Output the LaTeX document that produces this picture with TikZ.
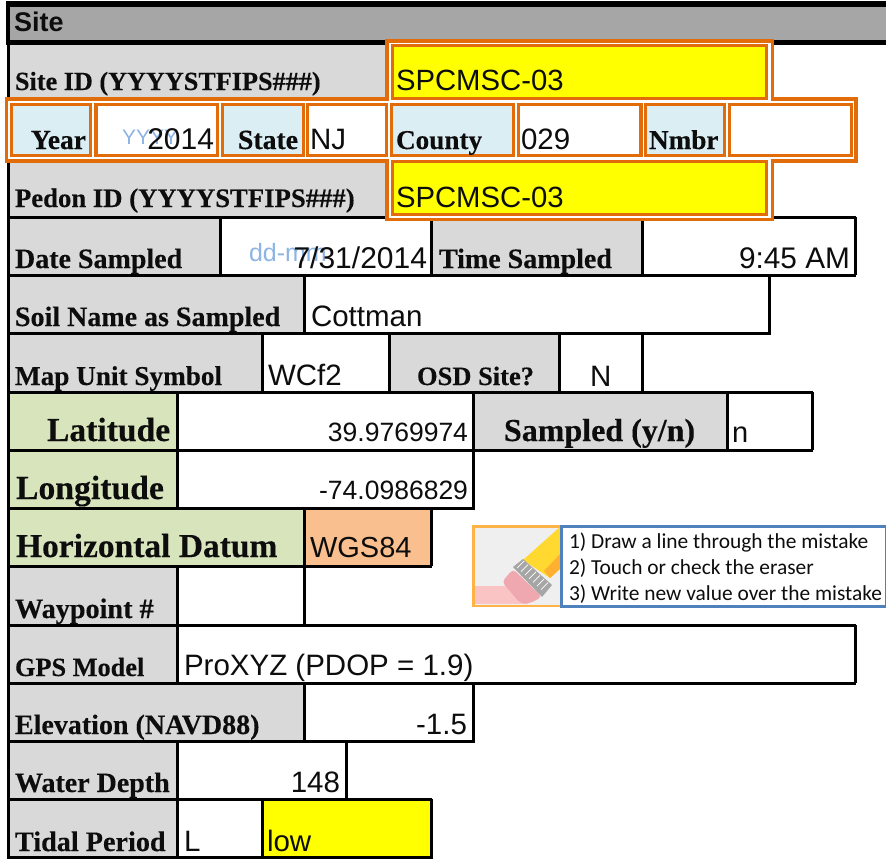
\documentclass[tikz,border=0pt]{standalone}
\usepackage{fontspec}
\setmainfont{Liberation Sans}
\newfontfamily\serifb[FakeBold=0.25]{Liberation Serif Bold}
\newfontfamily\calloutf{Carlito}
\definecolor{gr}{HTML}{D9D9D9}
\definecolor{hdr}{HTML}{A6A6A6}
\definecolor{grn}{HTML}{D8E4BC}
\definecolor{peach}{HTML}{FABF8F}
\definecolor{ltb}{HTML}{DAEEF3}
\definecolor{org}{HTML}{E26B0A}
\definecolor{wm}{HTML}{8DB4E2}
\definecolor{box}{HTML}{4F81BD}
\definecolor{eo}{HTML}{FFB347}
\definecolor{yel}{RGB}{255,255,0}
\definecolor{pband}{HTML}{FBC4C4}
\definecolor{peraser}{HTML}{F0A8B0}
\definecolor{pyel}{HTML}{FFD92F}
\definecolor{pora}{HTML}{FFB030}
\definecolor{ebg}{HTML}{EFEFEF}
\tikzset{
  base/.style={inner sep=0pt,outer sep=0pt,anchor=base west,text=black!95},
  vline/.style={line width=3pt,black},
  obox/.style={line width=3.4pt,org},
  oout/.style={line width=3.8pt,org},
}
\newcommand{\fcell}[5]{\fill[#5] (#1,#2) rectangle (#3,#4);}
\newcommand{\lab}[5]{\node[base,font={\fontsize{#4}{#4}\serifb}] (#1) at (#2,#3) {#5};}
\newcommand{\val}[5]{\node[base,font={\fontsize{#4}{#4}\selectfont}] (#1) at (#2,#3) {#5};}
\newcommand{\valr}[5]{\node[base,anchor=base east,font={\fontsize{#4}{#4}\selectfont}] (#1) at (#2,#3) {#5};}
\begin{document}
\begin{tikzpicture}[x=1pt,y=-1pt]
\useasboundingbox (0,0) rectangle (886,859);
\fill[white] (0,0) rectangle (886,859);
% fills
\fcell{8}{5}{886}{42}{hdr}
\fcell{9}{45}{388}{99}{gr}
\fcell{9}{162}{388}{217}{gr}
\fcell{9}{217}{219}{275}{gr}
\fcell{431}{217}{643}{275}{gr}
\fcell{9}{275}{304}{333}{gr}
\fcell{9}{333}{262}{392}{gr}
\fcell{390}{333}{559}{392}{gr}
\fcell{474}{392}{727}{450}{gr}
\fcell{9}{392}{177}{450}{grn}
\fcell{9}{450}{177}{508}{grn}
\fcell{9}{508}{304}{566}{grn}
\fcell{304}{508}{431}{566}{peach}
\fcell{9}{566}{177}{625}{gr}
\fcell{9}{625}{177}{683}{gr}
\fcell{9}{683}{304}{741}{gr}
\fcell{9}{741}{177}{799}{gr}
\fcell{9}{799}{177}{857}{gr}
\fcell{262}{799}{431}{857}{yel}
% black lines
\draw[line width=6pt] (6,4) -- (886,4);
\draw[line width=5.5pt] (8,42.5) -- (387,42.5) (772,42.5) -- (886,42.5);
\draw[line width=4.5pt] (8,2) -- (8,45);
\draw[vline] (8.5,45) -- (8.5,858.5);
\draw[vline] (8,217.5) -- (388,217.5) (770,217.5) -- (856,217.5);
\draw[vline] (8,275.5) -- (856,275.5);
\draw[vline] (8,333.5) -- (771,333.5);
\draw[vline] (8,392) -- (813,392);
\draw[vline] (8,450) -- (813,450);
\draw[vline] (8,508) -- (475,508);
\draw[vline] (8,566.5) -- (432,566.5);
\draw[vline] (8,625.5) -- (856,625.5);
\draw[vline] (8,683.5) -- (856,683.5);
\draw[vline] (8,741.5) -- (475,741.5);
\draw[vline] (8,799.5) -- (432,799.5);
\draw[vline] (8,857.5) -- (432,857.5);
\draw[vline] (220,217) -- (220,275) (431.5,217) -- (431.5,275) (642,217) -- (642,275) (855,217) -- (855,275);
\draw[vline] (304.5,275) -- (304.5,333) (769.5,275) -- (769.5,333);
\draw[vline] (262.5,333) -- (262.5,392) (389.5,333) -- (389.5,392) (559,333) -- (559,392) (642,333) -- (642,392);
\draw[vline] (177.5,392) -- (177.5,508) (473.5,392) -- (473.5,508) (727,392) -- (727,450) (812,392) -- (812,450);
\draw[vline] (304.5,508) -- (304.5,625) (431.5,508) -- (431.5,566);
\draw[vline] (177.5,566) -- (177.5,683) (855,625) -- (855,683);
\draw[vline] (304.5,683) -- (304.5,743) (473.5,683) -- (473.5,743);
\draw[vline] (177.5,741) -- (177.5,858) (346.5,741) -- (346.5,799) (262.5,799) -- (262.5,858) (431.5,799) -- (431.5,859);
% orange boxes: fills
\fill[white] (389,41) rectangle (772,100);
\fill[white] (7,100) rectangle (856,161);
\fill[white] (389,161) rectangle (772,219);
\fill[yel] (391,44) rectangle (768,99);
\fill[yel] (391,161) rectangle (768,216);
\foreach \a/\b in {10/92,221/305,390/515,644/726}{\fill[ltb] (\a,103) rectangle (\b,157);}
% orange outer lines
\draw[oout] (387,99) -- (387,41) -- (772.5,41) -- (772.5,99) -- (856,99) -- (856,161) -- (772.5,161) -- (772.5,219.5) -- (387,219.5) -- (387,161) -- (6.5,161) -- (6.5,99) -- cycle;
% orange inner boxes
\draw[obox] (392.5,45.5) rectangle (766.5,98.5);
\draw[obox] (392.5,161.5) rectangle (766.5,214.5);
\foreach \a/\b in {11.5/90.5,96/217.5,222.5/303.5,307.5/386.5,391.5/513.5,518.5/641,645.5/724.5,729.5/851.5}{\draw[obox] (\a,104.5) rectangle (\b,155.5);}
% watermarks
\val{wyear}{122}{144}{21}{\textcolor{wm}{YYYY}}
\val{wdate}{249}{261}{25}{\textcolor{wm}{dd-mm}}
% labels
\node[base,font={\fontsize{27}{27}\bfseries}] (site) at (14,32) {Site};
\lab{l1}{15}{90}{26.2}{Site ID (YYYYSTFIPS\#\#\#)}
\lab{l2}{31}{149}{27.5}{Year}
\lab{l3}{238}{149}{27.7}{State}
\lab{l4}{396}{149}{27.2}{County}
\lab{l5}{649}{149}{27.2}{Nmbr}
\lab{l6}{15}{207}{26.7}{Pedon ID (YYYYSTFIPS\#\#\#)}
\lab{l7}{15}{268}{28}{Date Sampled}
\lab{l8}{439}{268}{28}{Time Sampled}
\lab{l9}{15}{326}{28}{Soil Name as Sampled}
\lab{l10}{15}{385}{27.2}{Map Unit Symbol}
\lab{l11}{417}{385}{26.5}{OSD Site?}
\lab{l12}{47}{441}{33.6}{Latitude}
\lab{l13}{504}{441}{32}{Sampled (y/n)}
\lab{l14}{16}{499}{33.7}{Longitude}
\lab{l15}{16}{557}{33.5}{Horizontal Datum}
\lab{l16}{15}{618}{28.2}{Waypoint \#}
\lab{l17}{15}{676}{26.3}{GPS Model}
\lab{l18}{15}{734}{28}{Elevation (NAVD88)}
\lab{l19}{15}{792}{28}{Water Depth}
\lab{l20}{15}{851}{28.2}{Tidal Period}
% values
\val{v1}{396}{90}{29.3}{SPCMSC-03}
\valr{v2}{214}{149}{30}{2014}
\val{v3}{310}{149}{29.5}{NJ}
\val{v4}{521}{149}{29.5}{029}
\val{v5}{396}{207}{29.3}{SPCMSC-03}
\valr{v6}{427}{268}{30}{7/31/2014}
\valr{v7}{850}{268}{29.8}{9:45 AM}
\val{v8}{311}{326}{29.5}{Cottman}
\val{v9}{268}{385}{29.5}{WCf2}
\val{v10}{590}{386}{29.5}{N}
\valr{v11}{468}{441}{26.5}{39.9769974}
\val{v12}{732}{442}{29}{n}
\valr{v13}{468}{499}{26.5}{-74.0986829}
\val{v14}{310}{557}{29}{WGS84}
\val{v15}{184}{675}{29.5}{ProXYZ (PDOP = 1.9)}
\valr{v16}{467}{734}{29.5}{-1.5}
\valr{v17}{340}{792}{29.5}{148}
\val{v18}{184}{851}{29.5}{L}
\val{v19}{267}{851}{29.5}{low}
% eraser picture
\fill[ebg] (474,527) rectangle (561,605);
\fill[pband] (475,586) rectangle (528,604);
\fill[pyel] (523,560) -- (561,526) -- (561,568) -- (550,578) -- cycle;
\fill[pora] (544,571) -- (561,553) -- (561,568) -- (550,578) -- cycle;
\fill[peraser,rounded corners=4pt] (502,582) -- (513,569) -- (542,597) -- (528,604) -- (520,603) -- cycle;
\fill[black!35] (513,567) -- (523,559) -- (552,585) -- (542,597) -- cycle;
\foreach \i in {0,...,6}{\draw[white,line width=0.7pt] (517+4*\i,568+3.6*\i) -- (524+4*\i,561+3.6*\i);}
\draw[eo,line width=2.5pt] (473.5,526.5) rectangle (561,606);
% callout
\draw[box,line width=2.5pt] (561.5,526.5) rectangle (886,606.5);
\node[base,font={\fontsize{21.4}{21.4}\calloutf}] (c1) at (569,548) {1) Draw a line through the mistake};
\node[base,font={\fontsize{21.4}{21.4}\calloutf}] (c2) at (569,574) {2) Touch or check the eraser};
\node[base,font={\fontsize{21.4}{21.4}\calloutf}] (c3) at (569,600) {3) Write new value over the mistake};
\end{tikzpicture}
\end{document}
